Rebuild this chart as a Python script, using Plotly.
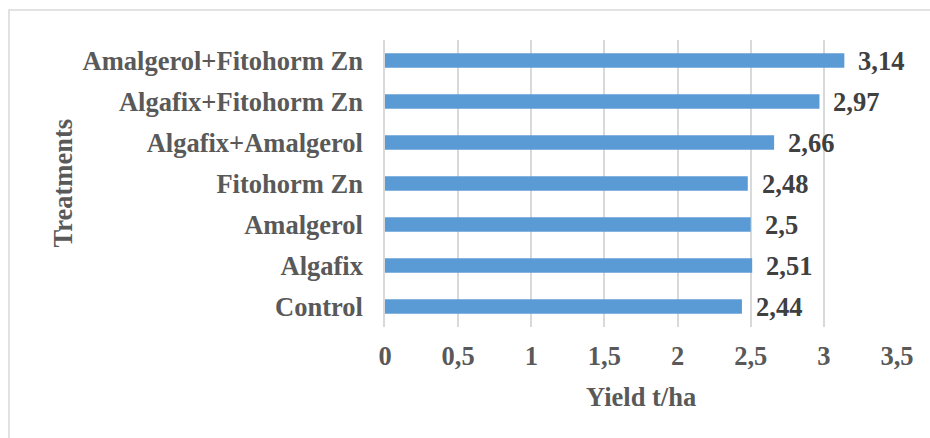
import plotly.graph_objects as go

categories = ["Control", "Algafix", "Amalgerol", "Fitohorm Zn",
              "Algafix+Amalgerol", "Algafix+Fitohorm Zn", "Amalgerol+Fitohorm Zn"]
values = [2.44, 2.51, 2.5, 2.48, 2.66, 2.97, 3.14]
value_labels = ["2,44", "2,51", "2,5", "2,48", "2,66", "2,97", "3,14"]
x_title = "Yield t/ha"
y_title = "Treatments"

FONT = "Liberation Serif"
FS = 26.5
W, H = 930, 438
L, R, T, B = 385, 33, 40, 111
PW, PH = W - L - R, H - T - B

fig = go.Figure()
fig.add_trace(go.Bar(
    x=values, y=categories, orientation="h",
    marker=dict(color="#5b9bd5", line=dict(width=0)),
    width=0.35, hoverinfo="skip",
))

for v, c, t in zip(values, categories, value_labels):
    fig.add_annotation(x=v, y=c, text="<b>%s</b>" % t, showarrow=False,
                       xanchor="left", yanchor="middle", xshift=12,
                       font=dict(family=FONT, size=FS, color="#404040"))

fig.add_annotation(xref="paper", yref="paper", x=0.5, y=(T + PH - 397) / PH,
                   text="<b>%s</b>" % x_title, showarrow=False,
                   xanchor="center", yanchor="middle",
                   font=dict(family=FONT, size=FS, color="#595959"))
fig.add_annotation(xref="paper", yref="paper", x=(62 - L) / PW, y=0.5,
                   text="<b>%s</b>" % y_title, showarrow=False, textangle=-90,
                   xanchor="center", yanchor="middle",
                   font=dict(family=FONT, size=FS, color="#595959"))

fig.update_layout(
    width=W, height=H,
    margin=dict(l=L, r=R, t=T, b=B, autoexpand=False),
    paper_bgcolor="white", plot_bgcolor="white",
    separators=", ",
    showlegend=False,
    font=dict(family=FONT, size=FS, color="#595959"),
    xaxis=dict(range=[0, 3.5], dtick=0.5, tick0=0, showgrid=True,
               gridcolor="#d9d9d9", gridwidth=1.5, zeroline=False,
               showline=False, ticks="", ticklabelstandoff=10,
               tickfont=dict(family=FONT, size=FS, color="#595959"),
               tickprefix="<b>", ticksuffix="</b>", fixedrange=True),
    yaxis=dict(showgrid=False, zeroline=False, showline=True,
               linecolor="#d9d9d9", linewidth=1.5, ticks="",
               ticklabelstandoff=15, range=[-0.5, 6.5],
               tickfont=dict(family=FONT, size=FS, color="#595959"),
               tickprefix="<b>", ticksuffix="</b>", fixedrange=True),
    shapes=[dict(type="rect", xref="paper", yref="paper",
                 x0=(9 - L) / PW, x1=1.2, y0=-0.5, y1=(T + PH - 10) / PH,
                 line=dict(color="#d9d9d9", width=1.5), layer="below")],
)

fig.write_html("out.html", config={"displayModeBar": False},
               post_script="document.body.style.margin='0px';")
